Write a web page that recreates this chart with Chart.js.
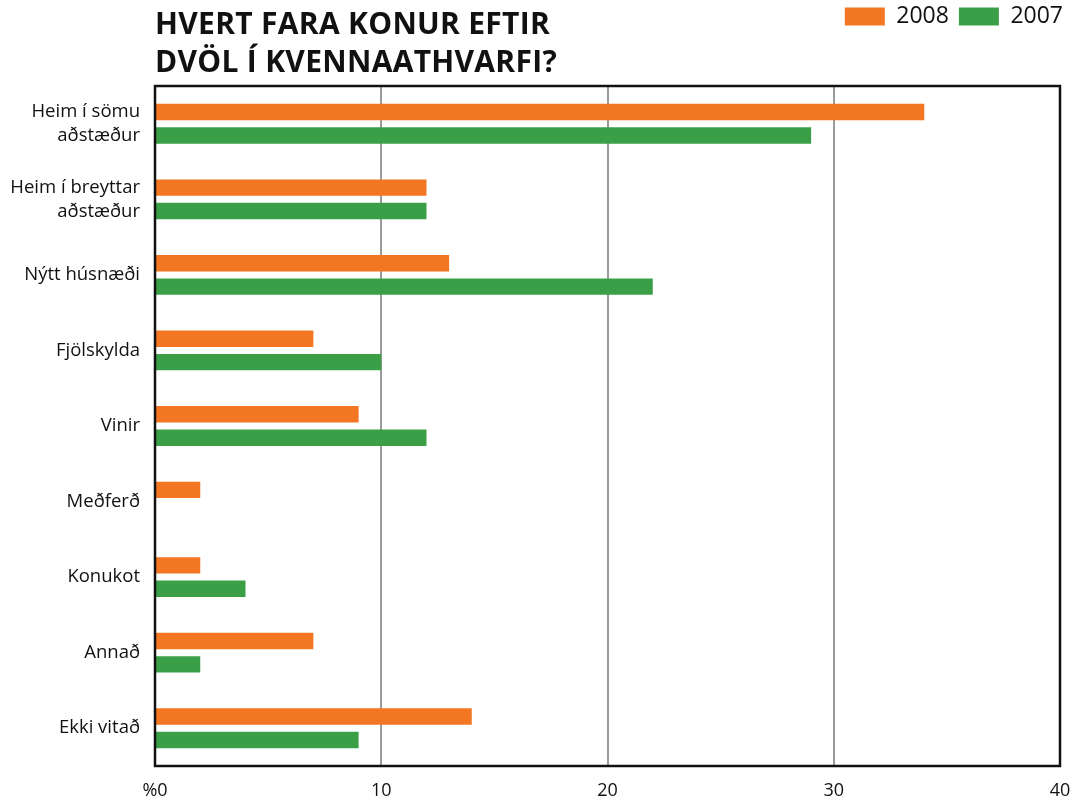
<!DOCTYPE html>
<html><head><meta charset="utf-8">
<script src="https://cdn.jsdelivr.net/npm/chart.js@4"></script>
<style>
html,body{margin:0;padding:0;background:#fff;}
#wrap{position:relative;width:1073px;height:800px;}
#title{position:absolute;left:155px;top:4px;font-family:'Open Sans';font-weight:700;font-size:30px;letter-spacing:0.3px;line-height:38px;color:#111;white-space:nowrap;}
canvas{position:absolute;left:0;top:0;}
</style></head><body>
<div id="wrap"><canvas id="c" width="1073" height="800"></canvas><div id="title">HVERT FARA KONUR EFTIR<br>DVÖL Í KVENNAATHVARFI?</div></div>
<script>
const categories = [['Heim í sömu','aðstæður'],['Heim í breyttar','aðstæður'],'Nýtt húsnæði','Fjölskylda','Vinir','Meðferð','Konukot','Annað','Ekki vitað'];
const values2008 = [34,12,13,7,9,2,2,7,14];
const values2007 = [29,12,22,10,12,null,4,2,9];
const seriesNames = ['2008','2007'];
const xTicks = [0,10,20,30,40];
const xTickLabels = ['%0','10','20','30','40'];

const ORANGE = '#F37622', GREEN = '#3A9F47';

const legendSpacer = { id:'legendSpacer', beforeInit(chart){ const orig = chart.legend.fit; chart.legend.fit = function(){ orig.call(this); this.height += 48; }; } };
const frame = { id:'frame', afterDatasetsDraw(chart){ const {ctx, chartArea:{left,top,right,bottom}} = chart; ctx.save(); ctx.strokeStyle='#111'; ctx.lineWidth=2.5; ctx.strokeRect(left,top,right-left,bottom-top); ctx.restore(); } };

Chart.defaults.font.family = "'Open Sans', sans-serif";
new Chart(document.getElementById('c'), {
  type: 'bar',
  data: {
    labels: categories,
    datasets: [
      { label: seriesNames[0], data: values2008, backgroundColor: ORANGE, categoryPercentage: 0.62, barPercentage: 0.70 },
      { label: seriesNames[1], data: values2007, backgroundColor: GREEN, categoryPercentage: 0.62, barPercentage: 0.70 }
    ]
  },
  options: {
    indexAxis: 'y',
    responsive: false,
    animation: false,
    layout: { padding: { left: 0, right: 0, top: -5, bottom: 0 } },
    plugins: {
      legend: { position: 'top', align: 'end', labels: { boxWidth: 40, boxHeight: 18, padding: 10, color: '#111', font: { size: 23 } } },
      title: { display: false },
      tooltip: { enabled: false }
    },
    scales: {
      x: {
        min: 0, max: 40,
        afterBuildTicks: s => { s.ticks = xTicks.map(v => ({ value: v })); },
        afterFit: s => { s.height = 34; s.paddingRight = 13; s.paddingBottom = 0; },
        ticks: { callback: v => xTickLabels[xTicks.indexOf(v)], padding: 14, color: '#111', font: { size: 18 }, maxRotation: 0 },
        grid: { color: c => (c.tick && (c.tick.value === 0 || c.tick.value === 40)) ? 'rgba(0,0,0,0)' : '#9a9a9a', lineWidth: 2, drawTicks: false },
        border: { display: false }
      },
      y: {
        afterFit: s => { s.width = 155; s.paddingTop = 0; s.paddingBottom = 0; },
        ticks: { padding: 15, color: '#111', font: { size: 18.5, lineHeight: 1.3 } },
        grid: { display: false, drawTicks: false },
        border: { display: false }
      }
    }
  },
  plugins: [legendSpacer, frame]
});
</script>
</body></html>
